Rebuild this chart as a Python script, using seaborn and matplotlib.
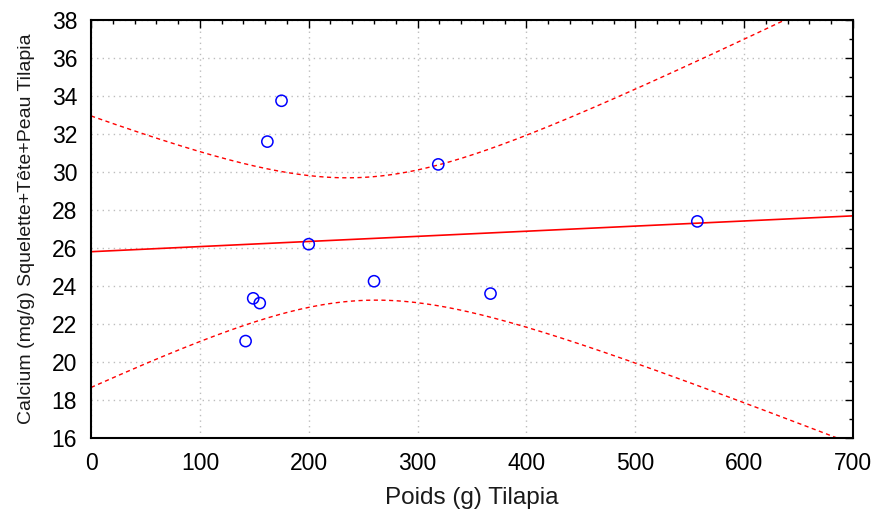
"""Calcium content vs. body weight of Tilapia, with linear fit and 95% CI."""
import matplotlib.pyplot as plt
import numpy as np
import seaborn as sns
from matplotlib.ticker import MultipleLocator

weight_g = [142, 149, 155, 162, 175, 200, 260, 319, 367, 557]
calcium = [21.1, 23.35, 23.1, 31.6, 33.75, 26.2, 24.25, 30.4, 23.6, 27.4]

x_ticks = list(range(0, 701, 100))
y_ticks = list(range(16, 39, 2))
x_label = 'Poids (g) Tilapia'
y_label = 'Calcium (mg/g) Squelette+Tête+Peau Tilapia'

T_CRIT = 2.306  # Student t, 0.975 quantile, df = n - 2 = 8

sns.set_style('white')
plt.rcParams['font.family'] = ['Liberation Sans', 'DejaVu Sans']
plt.rcParams['axes.labelcolor'] = 'black'

x = np.asarray(weight_g, dtype=float)
y = np.asarray(calcium, dtype=float)
n = len(x)
slope, intercept = np.polyfit(x, y, 1)
resid = y - (intercept + slope * x)
s = np.sqrt(np.sum(resid ** 2) / (n - 2))
sxx = np.sum((x - x.mean()) ** 2)

xs = np.linspace(x_ticks[0], x_ticks[-1], 300)
fit = intercept + slope * xs
half = T_CRIT * s * np.sqrt(1 / n + (xs - x.mean()) ** 2 / sxx)

fig = plt.figure(figsize=(8.77, 5.16), dpi=100)
ax = fig.add_axes([0.1038, 0.1512, 0.8688, 0.81])

sns.lineplot(x=xs, y=fit, color='red', linewidth=1.2, ax=ax)
for band in (fit + half, fit - half):
    sns.lineplot(x=xs, y=band, color='red', linewidth=1.0,
                 linestyle=(0, (3, 2.5)), ax=ax)
sns.scatterplot(x=x, y=y, marker='o', s=65, color='blue',
                facecolors='none', edgecolor='blue', linewidth=1.1,
                ax=ax, zorder=3)

ax.set_xlim(x_ticks[0], x_ticks[-1])
ax.set_ylim(y_ticks[0], y_ticks[-1])
ax.set_xticks(x_ticks)
ax.set_yticks(y_ticks)
ax.xaxis.set_minor_locator(MultipleLocator(20))
ax.yaxis.set_minor_locator(MultipleLocator(1))
ax.tick_params(which='both', direction='in', top=True, right=True,
               colors='black', width=1.0)
ax.tick_params(which='major', length=6, labelsize=16.5, pad=10)
ax.tick_params(which='minor', length=3)
ax.tick_params(axis='x', labeltop=False)
ax.tick_params(axis='y', labelright=False)

ax.grid(True, which='major', color='#bdbdbd', linestyle=(0, (1, 3)),
        linewidth=1.0)
for spine in ax.spines.values():
    spine.set_visible(True)
    spine.set_color('black')
    spine.set_linewidth(1.5)

ax.set_xlabel(x_label, fontsize=17.5, labelpad=9, color='#1a1a1a')
ax.set_ylabel(y_label, fontsize=14, labelpad=12, color='#1a1a1a')

fig.savefig('out.png', dpi=100)
